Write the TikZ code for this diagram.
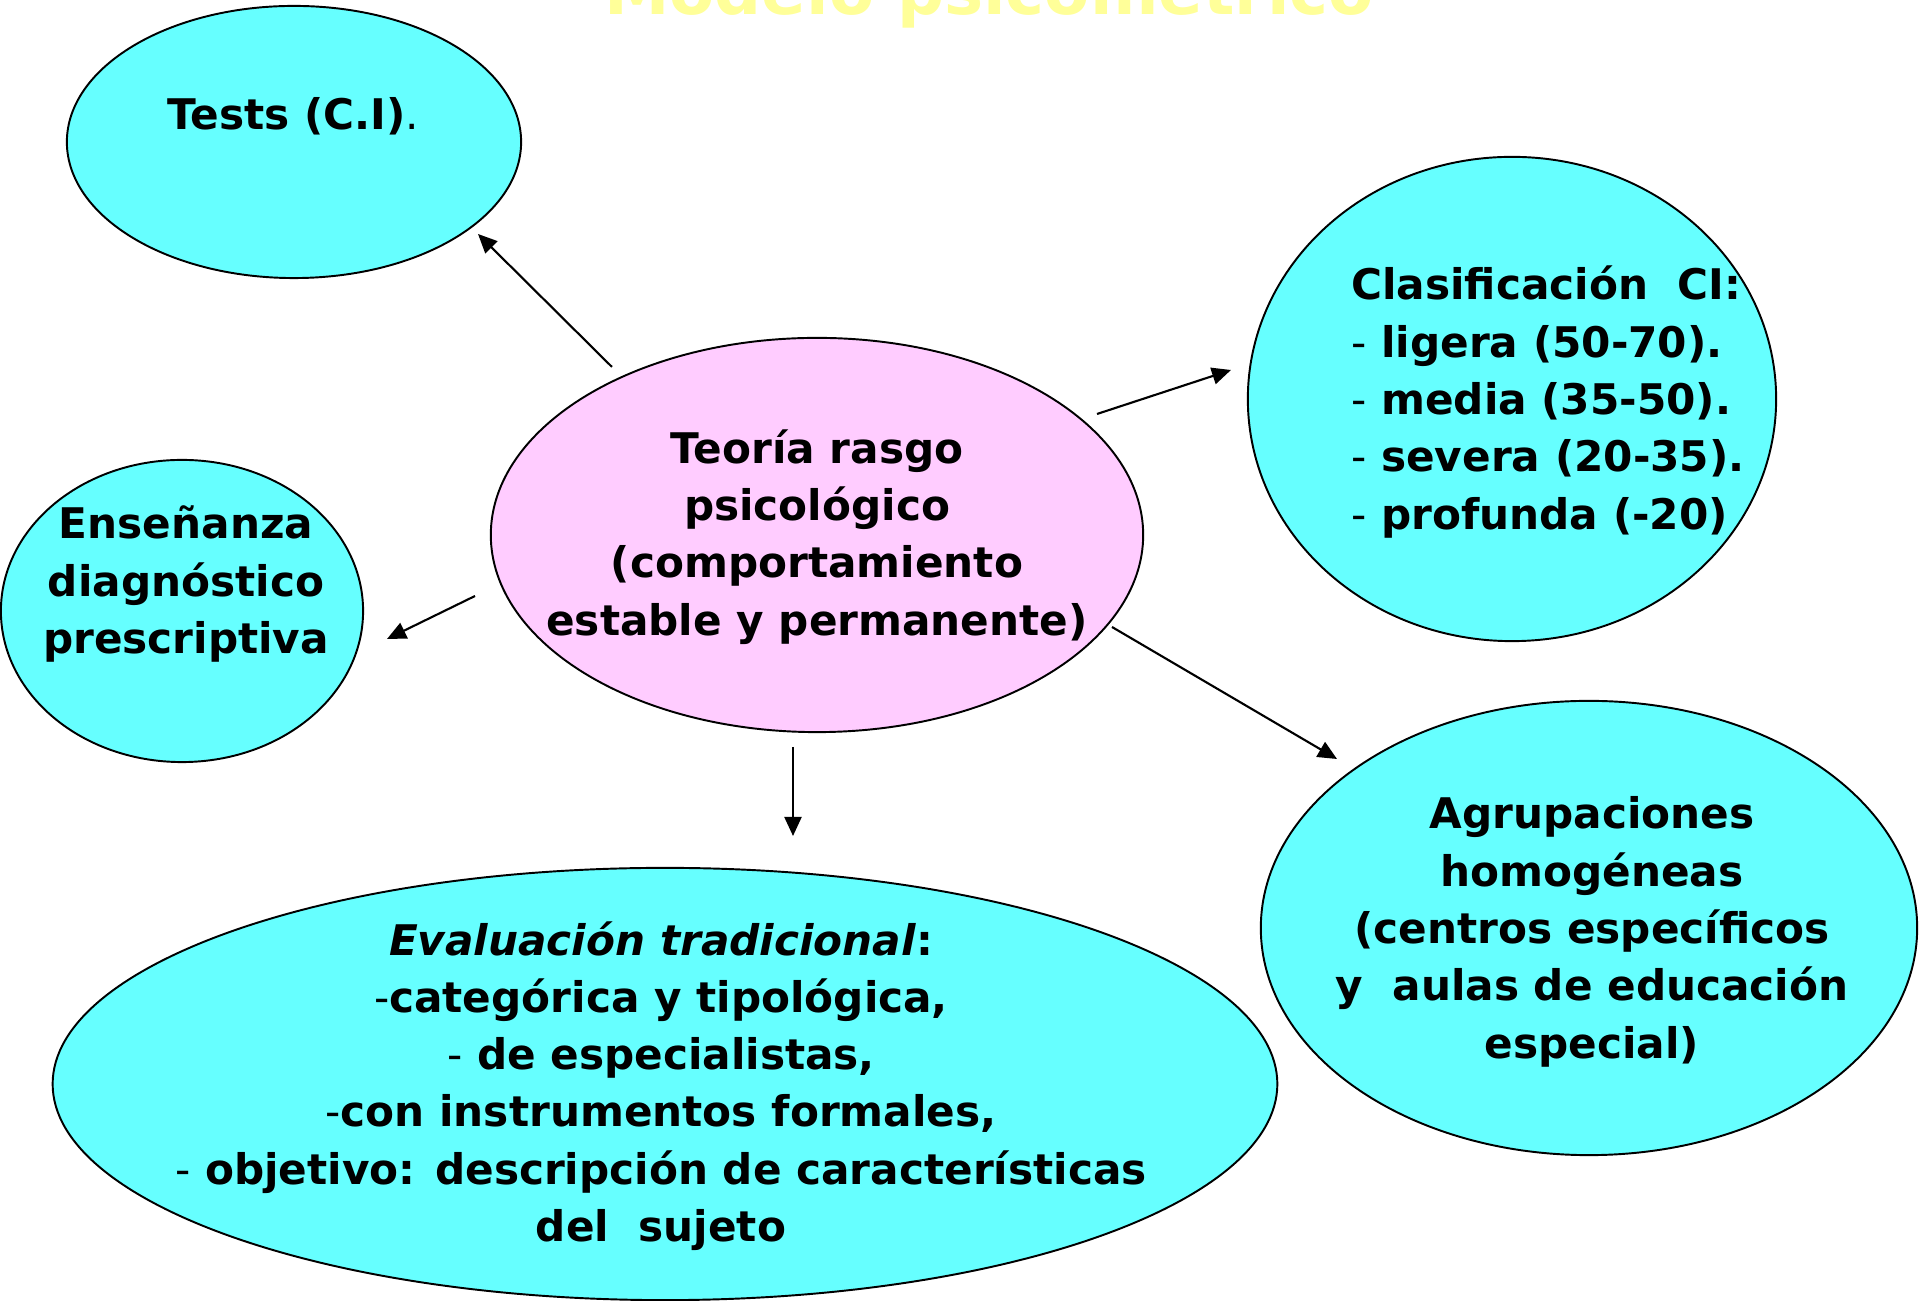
\documentclass[tikz,border=0pt]{standalone}
\usepackage{fontspec}
\setmainfont{DejaVu Sans}
\usepackage{tikz}
\usetikzlibrary{shapes,arrows,arrows.meta,positioning}
\definecolor{celeste}{HTML}{66FFFF}
\definecolor{rosa}{HTML}{FFCCFF}
\definecolor{amarillo}{HTML}{FFFF99}
\tikzstyle{bubble1}=[ellipse, draw=black, line width=0.55pt, fill=celeste, inner sep=0pt]
\tikzstyle{bubble2}=[ellipse, draw=black, line width=0.55pt, fill=rosa, inner sep=0pt]
\tikzstyle{txt}=[inner sep=0pt, align=center, font=\fontsize{12}{16.3}\selectfont\bfseries]
\tikzstyle{arrow1}=[-{Triangle[length=0.19cm,width=0.17cm]}, line width=0.6pt]
\newcommand{\guion}{\textmd{-}}

\begin{document}
\begin{tikzpicture}[x=0.01cm, y=-0.01cm]
\useasboundingbox (0,0) rectangle (1920,1301);
\clip (0,0) rectangle (1920,1301);
%Title
\node[font=\fontsize{18.7}{22}\selectfont\bfseries, text=amarillo, anchor=base, inner sep=0pt] (titulo) at (989,15) {Modelo psicométrico};
%Bubbles
\node[bubble1, minimum width=4.54cm, minimum height=2.72cm] (tests) at (294,142) {};
\node[bubble2, minimum width=6.52cm, minimum height=3.94cm] (teoria) at (817,535) {};
\node[bubble1, minimum width=5.28cm, minimum height=4.84cm] (clasif) at (1512,399) {};
\node[bubble1, minimum width=3.62cm, minimum height=3.02cm] (ensenanza) at (182,611) {};
\node[bubble1, minimum width=6.56cm, minimum height=4.54cm] (agrup) at (1589,928) {};
\node[bubble1, minimum width=12.24cm, minimum height=4.32cm] (evalua) at (665,1084) {};
%Texts
\node[txt] (ttests) at (293,116) {Tests (C.I)\textmd{.}};
\node[txt] (tteoria) at (817,537) {Teoría rasgo\\psicológico\\(comportamiento\\estable y permanente)};
\node[txt, align=left] (tclasif) at (1548,402) {Clasificación\ \ CI:\\\guion\ ligera (50-70).\\\guion\ media (35-50).\\\guion\ severa (20-35).\\\guion\ profunda (-20)};
\node[txt] (tensen) at (186,584) {Enseñanza\\diagnóstico\\prescriptiva};
\node[txt] (tagrup) at (1592,932) {Agrupaciones\\homogéneas\\(centros específicos\\y\ \ aulas de educación\\especial)};
\node[txt] (teval) at (661,1086) {\textit{Evaluación tradicional}:\\\guion categórica y tipológica,\\\guion\ de especialistas,\\\guion con instrumentos formales,\\\guion\ objetivo: descripción de características\\del\ \ sujeto};
%Arrow ends
\coordinate (s1) at (612,367);  \coordinate (e1) at (478,234);
\coordinate (s2) at (1097,414); \coordinate (e2) at (1231,370);
\coordinate (s3) at (475,596);  \coordinate (e3) at (387,639);
\coordinate (s4) at (1112,627); \coordinate (e4) at (1337,759);
\coordinate (s5) at (793,747);  \coordinate (e5) at (793,836);
%Arrows
\draw[arrow1] (s1) -- (e1);
\draw[arrow1] (s2) -- (e2);
\draw[arrow1] (s3) -- (e3);
\draw[arrow1] (s4) -- (e4);
\draw[arrow1] (s5) -- (e5);
\end{tikzpicture}
\end{document}
